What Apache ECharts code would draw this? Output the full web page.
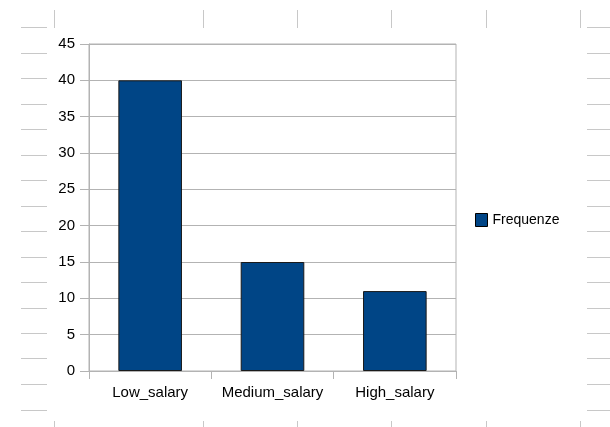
<!DOCTYPE html>
<html>
<head>
<meta charset="utf-8">
<script src="https://cdn.jsdelivr.net/npm/echarts@6/dist/echarts.min.js"></script>
<style>
html,body{margin:0;padding:0;background:#fff;}
#chart{width:610px;height:427px;}
</style>
</head>
<body>
<div id="chart"></div>
<script>
const categories = ['Low_salary', 'Medium_salary', 'High_salary'];
const seriesName = 'Frequenze';
const frequenze = [40, 15, 11];
const yTicks = [0, 5, 10, 15, 20, 25, 30, 35, 40, 45];

// spreadsheet cell-border fragments visible around the chart object
const colMarks = [54, 203, 297, 391, 486, 580];
const rowMarks = [27, 53, 78, 104, 129, 155, 180, 206, 231, 257, 282, 308, 333, 358, 384, 410];

const deco = [];
const decoStyle = { stroke: '#c8c8c8', lineWidth: 1 };
colMarks.forEach(x => {
  deco.push({ type: 'line', shape: { x1: x + 0.5, y1: 10, x2: x + 0.5, y2: 28 }, style: decoStyle, silent: true });
  deco.push({ type: 'line', shape: { x1: x + 0.5, y1: 421, x2: x + 0.5, y2: 427 }, style: decoStyle, silent: true });
});
rowMarks.forEach(y => {
  deco.push({ type: 'line', shape: { x1: 21, y1: y + 0.5, x2: 47, y2: y + 0.5 }, style: decoStyle, silent: true });
  deco.push({ type: 'line', shape: { x1: 587, y1: y + 0.5, x2: 610, y2: y + 0.5 }, style: decoStyle, silent: true });
});

const font = "'Liberation Sans', Arial, sans-serif";
const grey = '#b3b3b3';

const chart = echarts.init(document.getElementById('chart'), null, { renderer: 'canvas' });
chart.setOption({
  animation: false,
  backgroundColor: '#fff',
  graphic: deco,
  grid: {
    left: 89, right: 154, top: 44, bottom: 56,
    show: true, borderColor: grey, borderWidth: 1, backgroundColor: 'transparent',
    containLabel: false
  },
  legend: {
    data: [seriesName],
    orient: 'vertical',
    left: 475, top: 213,
    padding: 0,
    icon: 'rect',
    itemWidth: 12, itemHeight: 13, itemGap: 5,
    textStyle: { fontFamily: font, fontSize: 14, color: '#000', padding: [0, 0, 0, 0] },
    itemStyle: { borderColor: '#000', borderWidth: 1 }
  },
  xAxis: {
    type: 'category',
    data: categories,
    boundaryGap: true,
    axisLine: { show: true, lineStyle: { color: grey } },
    axisTick: { show: true, length: 8, lineStyle: { color: grey } },
    axisLabel: { fontFamily: font, fontSize: 15, color: '#000', margin: 14, interval: 0, hideOverlap: false },
    splitLine: { show: false }
  },
  yAxis: {
    type: 'value',
    min: yTicks[0], max: yTicks[yTicks.length - 1], interval: yTicks[1] - yTicks[0],
    axisLine: { show: true, lineStyle: { color: grey } },
    axisTick: { show: true, length: 9, lineStyle: { color: grey } },
    axisLabel: { fontFamily: font, fontSize: 15, color: '#000', margin: 14 },
    splitLine: { show: true, lineStyle: { color: grey } }
  },
  series: [{
    name: seriesName,
    type: 'bar',
    data: frequenze,
    barCategoryGap: '48%',
    itemStyle: { color: '#004586', borderColor: '#1a1a1a', borderWidth: 1 }
  }]
});
</script>
</body>
</html>
